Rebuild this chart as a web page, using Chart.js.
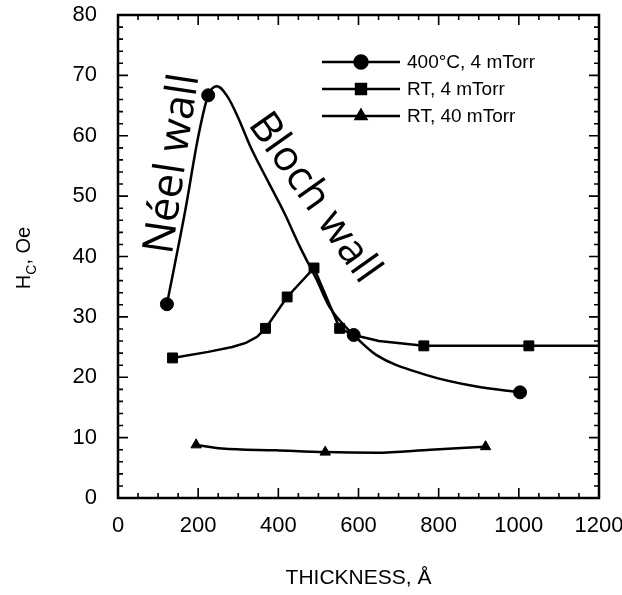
<!DOCTYPE html>
<html lang="en">
<head>
    <meta charset="UTF-8">
    <title>Hc vs thickness</title>
    <script src="https://cdn.jsdelivr.net/npm/chart.js"></script>
    <style>
        body { margin: 0; background: #fff; }
    </style>
</head>
<body>
    <canvas id="hcChart" width="622" height="595"></canvas>

    <script>
        // measured points: thickness (Å) and coercivity Hc (Oe)
        const hotThick = [122, 225, 588, 1003];
        const hotHc = [32.1, 66.7, 27.0, 17.5];
        const rtThick = [136, 368, 422, 489, 553, 763, 1025];
        const rtHc = [23.2, 28.1, 33.3, 38.1, 28.1, 25.2, 25.2];
        const rt40Thick = [195, 517, 917];
        const rt40Hc = [8.8, 7.6, 8.5];

        // the drawn guide curves
        const hotCurveThick = [122, 168, 200, 225, 247, 274, 299, 331, 373, 415, 454, 496, 528, 588, 644, 768, 891, 1003];
        const hotCurveHc = [32.1, 47.7, 59.8, 66.7, 68.2, 66.4, 63.1, 58.1, 52.6, 47.2, 41.6, 36.1, 31.6, 27.0, 23.7, 20.4, 18.5, 17.5];
        const rtCurveThick = [136, 225, 285, 319, 347, 368, 422, 489, 553, 588, 651, 763, 1025, 1200];
        const rtCurveHc = [23.2, 24.2, 25.0, 25.7, 26.7, 28.1, 33.3, 38.1, 28.1, 27.0, 26.0, 25.2, 25.2, 25.2];
        const rt40CurveThick = [195, 259, 394, 517, 644, 780, 917];
        const rt40CurveHc = [8.8, 8.2, 7.9, 7.6, 7.5, 8.0, 8.5];

        const seriesLabels = ['400°C, 4 mTorr', 'RT, 4 mTorr', 'RT, 40 mTorr'];
        const xTickValues = [0, 200, 400, 600, 800, 1000, 1200];
        const yTickValues = [0, 10, 20, 30, 40, 50, 60, 70, 80];

        const pts = (xs, ys) => xs.map((x, i) => ({ x: x, y: ys[i] }));
        const FONT = '"Liberation Sans", Arial, sans-serif';

        const markerSet = (label, xs, ys, style, r) => ({
            label: label,
            data: pts(xs, ys),
            showLine: false,
            pointStyle: style,
            pointRadius: r,
            pointBackgroundColor: '#000',
            pointBorderColor: '#000',
            pointBorderWidth: 1
        });
        const curveSet = (xs, ys, mode) => ({
            data: pts(xs, ys),
            borderColor: '#000',
            borderWidth: 2.5,
            pointRadius: 0,
            cubicInterpolationMode: mode,
            tension: mode === 'monotone' ? 0.4 : 0
        });

        // inward ticks on all four sides plus the frame
        const framePlugin = {
            id: 'frame',
            afterDatasetsDraw(chart) {
                const { ctx, chartArea: a, scales } = chart;
                ctx.save();
                ctx.strokeStyle = '#000';
                ctx.lineWidth = 1.6;
                ctx.beginPath();
                for (let v = 0; v <= 1200; v += 50) {
                    const px = scales.x.getPixelForValue(v);
                    const len = v % 200 === 0 ? 10 : 5;
                    ctx.moveTo(px, a.bottom); ctx.lineTo(px, a.bottom - len);
                    ctx.moveTo(px, a.top); ctx.lineTo(px, a.top + len);
                }
                for (let v = 0; v <= 80; v += 2) {
                    const py = scales.y.getPixelForValue(v);
                    const len = v % 10 === 0 ? 10 : 5;
                    ctx.moveTo(a.left, py); ctx.lineTo(a.left + len, py);
                    ctx.moveTo(a.right, py); ctx.lineTo(a.right - len, py);
                }
                ctx.stroke();
                ctx.lineWidth = 2.5;
                ctx.strokeRect(a.left, a.top, a.right - a.left, a.bottom - a.top);
                ctx.restore();
            }
        };

        // legend: short line with the marker in the middle
        const legendPlugin = {
            id: 'lineLegend',
            afterDraw(chart) {
                const ctx = chart.ctx;
                const rowY = [62, 89, 116];
                ctx.save();
                chart.data.datasets.filter(d => d.label).forEach((d, i) => {
                    const y = rowY[i];
                    ctx.strokeStyle = '#000';
                    ctx.lineWidth = 2.5;
                    ctx.beginPath();
                    ctx.moveTo(322, y); ctx.lineTo(400, y);
                    ctx.stroke();
                    ctx.fillStyle = '#000';
                    Chart.helpers.drawPoint(ctx, { pointStyle: d.pointStyle, radius: d.pointRadius, borderWidth: 1 }, 361, y);
                    ctx.fill();
                    ctx.font = '19px ' + FONT;
                    ctx.textBaseline = 'middle';
                    ctx.textAlign = 'left';
                    ctx.fillText(d.label, 407, y + 1);
                });
                ctx.restore();
            }
        };

        // y title with subscript and the two wall annotations
        const textPlugin = {
            id: 'extraText',
            afterDraw(chart) {
                const ctx = chart.ctx;
                ctx.save();
                ctx.fillStyle = '#000';
                ctx.translate(23, 258);
                ctx.rotate(-Math.PI / 2);
                ctx.textBaseline = 'alphabetic';
                ctx.font = '20px ' + FONT;
                const wH = ctx.measureText('H').width;
                const wRest = ctx.measureText(', Oe').width;
                ctx.font = '14px ' + FONT;
                const wC = ctx.measureText('C').width;
                let x = -(wH + wC + wRest) / 2;
                ctx.font = '20px ' + FONT;
                ctx.fillText('H', x, 7); x += wH;
                ctx.font = '14px ' + FONT;
                ctx.fillText('C', x, 13); x += wC;
                ctx.font = '20px ' + FONT;
                ctx.fillText(', Oe', x, 7);
                ctx.restore();

                ctx.save();
                ctx.fillStyle = '#000';
                ctx.font = '43px "Open Sans", sans-serif';
                ctx.textAlign = 'center';
                ctx.textBaseline = 'middle';
                ctx.translate(173, 164);
                ctx.rotate(-81.5 * Math.PI / 180);
                ctx.fillText('Néel wall', 0, 0);
                ctx.restore();

                ctx.save();
                ctx.fillStyle = '#000';
                ctx.font = '42px "Open Sans", sans-serif';
                ctx.textAlign = 'center';
                ctx.textBaseline = 'middle';
                ctx.translate(314, 198);
                ctx.rotate(54.8 * Math.PI / 180);
                ctx.fillText('Bloch wall', 0, 0);
                ctx.restore();
            }
        };

        const ctx = document.getElementById('hcChart').getContext('2d');
        const hcChart = new Chart(ctx, {
            type: 'line',
            data: {
                datasets: [
                    markerSet(seriesLabels[0], hotThick, hotHc, 'circle', 6.5),
                    markerSet(seriesLabels[1], rtThick, rtHc, 'rect', 7),
                    markerSet(seriesLabels[2], rt40Thick, rt40Hc, 'triangle', 6),
                    curveSet(hotCurveThick, hotCurveHc, 'monotone'),
                    curveSet(rtCurveThick, rtCurveHc, 'default'),
                    curveSet(rt40CurveThick, rt40CurveHc, 'monotone')
                ]
            },
            options: {
                responsive: false,
                animation: false,
                layout: { padding: { top: 15, right: 23, left: 0, bottom: 0 } },
                plugins: { legend: { display: false }, tooltip: { enabled: false } },
                scales: {
                    x: {
                        type: 'linear',
                        min: 0,
                        max: 1200,
                        afterBuildTicks: s => { s.ticks = xTickValues.map(v => ({ value: v })); },
                        afterFit: s => { s.height = 97; s.paddingLeft = 0; s.paddingRight = 0; },
                        grid: { display: false, drawTicks: false },
                        border: { display: false },
                        ticks: { color: '#000', padding: 15, maxRotation: 0, callback: v => String(v), font: { family: FONT, size: 22 } },
                        title: {
                            display: true,
                            text: 'THICKNESS, Å',
                            color: '#000',
                            padding: { top: 0, bottom: 4 },
                            font: { family: FONT, size: 21 }
                        }
                    },
                    y: {
                        min: 0,
                        max: 80,
                        afterBuildTicks: s => { s.ticks = yTickValues.map(v => ({ value: v })); },
                        afterFit: s => { s.width = 118; s.paddingTop = 0; s.paddingBottom = 0; },
                        grid: { display: false, drawTicks: false },
                        border: { display: false },
                        ticks: { color: '#000', padding: 21, callback: v => String(v), font: { family: FONT, size: 22 } }
                    }
                }
            },
            plugins: [framePlugin, legendPlugin, textPlugin]
        });
    </script>
</body>
</html>
